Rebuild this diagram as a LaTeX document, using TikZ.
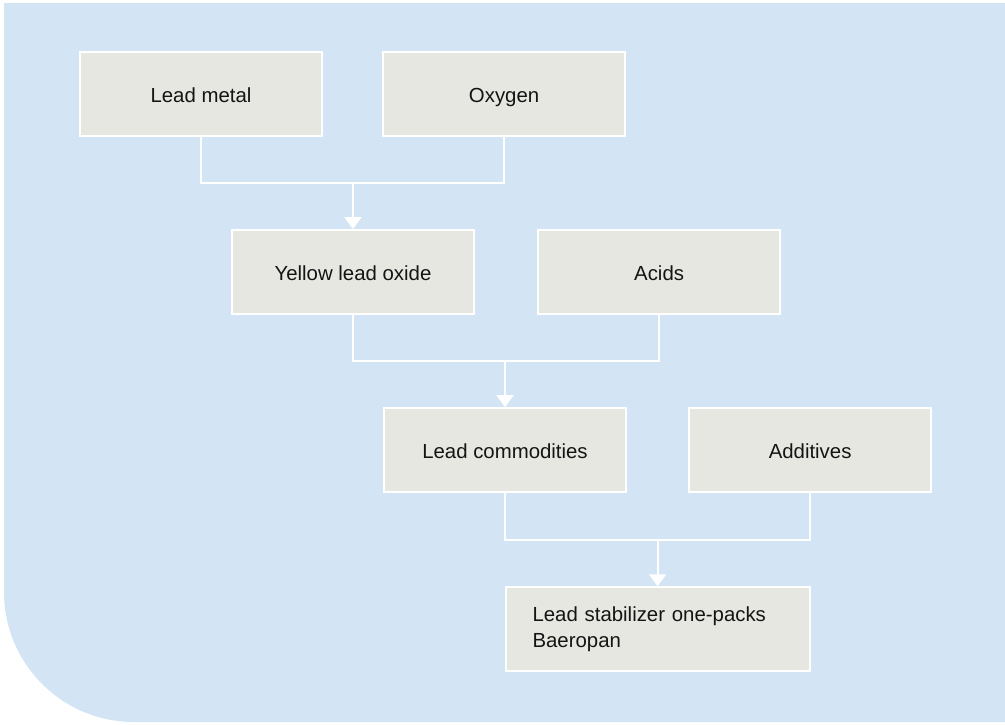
\documentclass[tikz,border=0pt]{standalone}
\usepackage{fontspec}
\setmainfont{Liberation Sans}
\usetikzlibrary{arrows.meta,positioning,calc}
\definecolor{panel}{HTML}{D3E4F4}
\definecolor{boxfill}{HTML}{E7E7E2}
\definecolor{ink}{HTML}{141414}

\begin{document}
\begin{tikzpicture}[font=\fontsize{11.6}{14.8}\selectfont,text=ink,
  b/.style={draw=white,line width=1.2pt,fill=boxfill,minimum width=4.84cm,minimum height=1.68cm,align=center,inner sep=0pt,text height=0.96em,text depth=0pt},
  link/.style={white,line width=1.1pt},
  arr/.style={link,-{Triangle[width=0.34cm,length=0.24cm]}}]
\useasboundingbox (0,0) rectangle (20.1,-14.48);
\fill[panel] (20.1,-0.06) -- (0.08,-0.06) -- (0.08,-11.84) arc[start angle=180,end angle=270,radius=2.6] -- (20.1,-14.44) -- cycle;
\node[b] (metal) at (4.02,-1.88) {Lead metal};
\node[b,right=1.18cm of metal] (oxygen) {Oxygen};
\node[b,below=1.84cm of metal,xshift=3.04cm] (oxide) {Yellow lead oxide};
\node[b,right=1.24cm of oxide] (acids) {Acids};
\node[b,below=1.84cm of oxide,xshift=3.04cm] (commod) {Lead commodities};
\node[b,right=1.22cm of commod] (addit) {Additives};
\coordinate (j1) at ($(metal.south)!0.5!(oxide.north)$);
\coordinate (j2) at ($(oxide.south)!0.5!(commod.north)$);
\path (commod.south) -- (addit.south) coordinate[pos=0.5] (mid3);
\node[b,below=1.86cm of mid3,anchor=north,minimum width=6.08cm,text width=5cm,inner xsep=0.54cm,align=left,text height=,text depth=] (stab) {Lead stabilizer one-packs\\Baeropan};
\coordinate (j3) at ($(commod.south)!0.5!(commod.south |- stab.north)$);
\draw[link] (metal.south) |- (j1 -| oxygen.south) -- (oxygen.south);
\draw[arr] (oxide.north |- j1) -- (oxide.north);
\draw[link] (oxide.south) |- (j2 -| acids.south) -- (acids.south);
\draw[arr] (commod.north |- j2) -- (commod.north);
\draw[link] (commod.south) |- (j3 -| addit.south) -- (addit.south);
\draw[arr] (stab.north |- j3) -- (stab.north);
\end{tikzpicture}
\end{document}
